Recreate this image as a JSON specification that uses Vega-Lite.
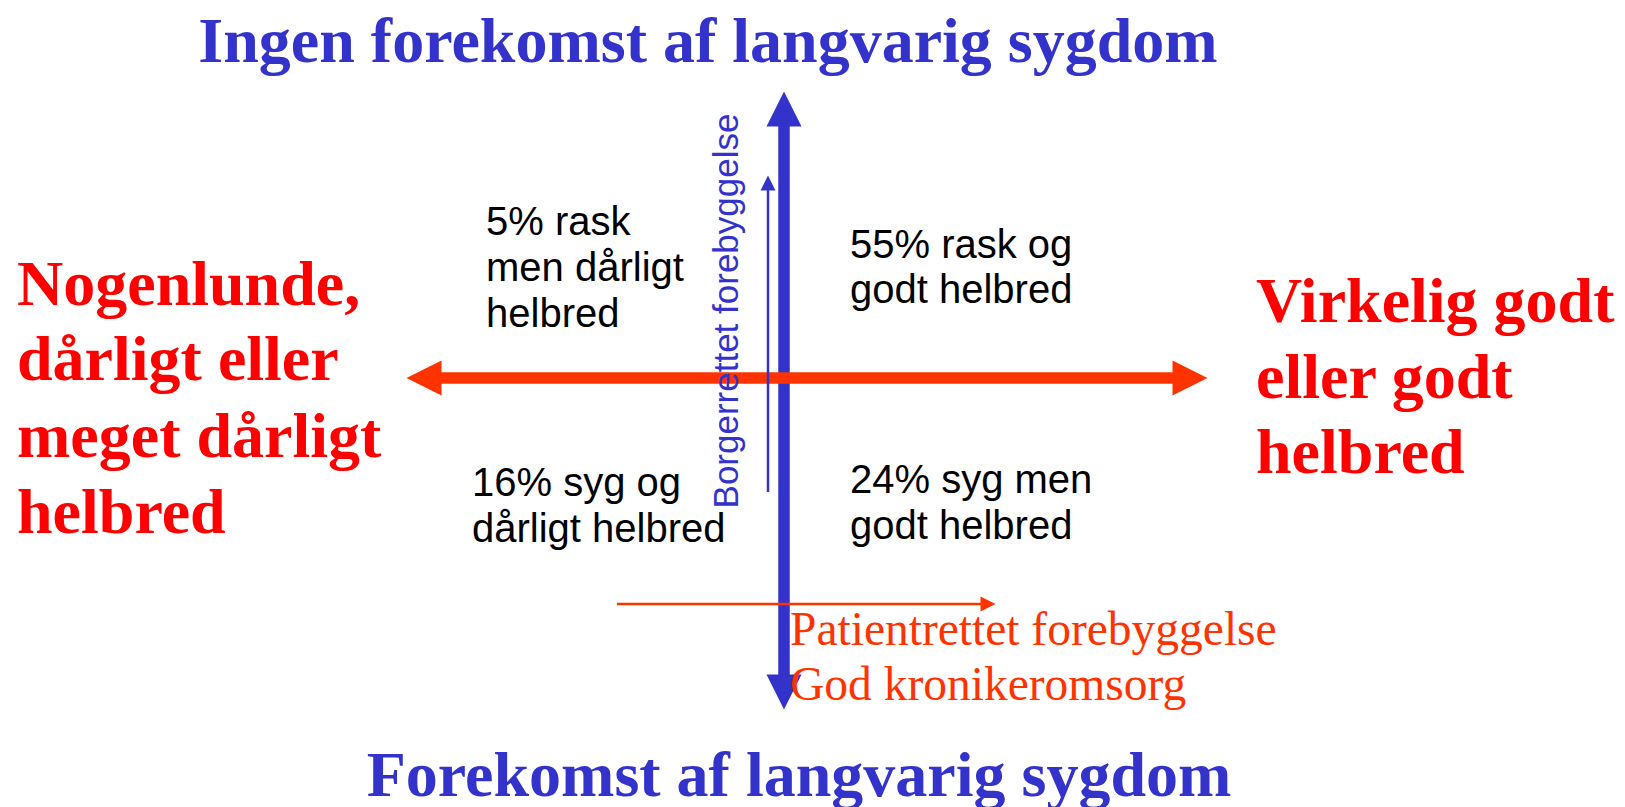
{
  "$schema": "https://vega.github.io/schema/vega-lite/v6.json",
  "width": 1625,
  "height": 807,
  "padding": 0,
  "autosize": {"type": "none"},
  "background": "white",
  "config": {"view": {"stroke": null}},
  "datasets": {
    "shafts": [
      {"arrow": "Langvarig sygdom", "kind": "main", "axis": "vertical", "x": 784, "y": 121, "x2": 784, "y2": 680},
      {"arrow": "Helbred", "kind": "main", "axis": "horizontal", "x": 440, "y": 378, "x2": 1176, "y2": 378},
      {"arrow": "Borgerrettet forebyggelse", "kind": "guide", "axis": "vertical", "x": 768, "y": 188, "x2": 768, "y2": 492},
      {"arrow": "Patientrettet forebyggelse", "kind": "guide", "axis": "horizontal", "x": 617, "y": 604, "x2": 984, "y2": 604}
    ],
    "heads": [
      {"arrow": "Langvarig sygdom", "kind": "main", "axis": "vertical", "dir": "up", "x": 784, "y": 109},
      {"arrow": "Langvarig sygdom", "kind": "main", "axis": "vertical", "dir": "down", "x": 784, "y": 692},
      {"arrow": "Helbred", "kind": "main", "axis": "horizontal", "dir": "left", "x": 424, "y": 378},
      {"arrow": "Helbred", "kind": "main", "axis": "horizontal", "dir": "right", "x": 1190, "y": 378},
      {"arrow": "Borgerrettet forebyggelse", "kind": "guide", "axis": "vertical", "dir": "up", "x": 768, "y": 183},
      {"arrow": "Patientrettet forebyggelse", "kind": "guide", "axis": "horizontal", "dir": "right", "x": 988, "y": 604}
    ],
    "labels": [
      {"text": "Ingen forekomst af langvarig sygdom", "role": "title", "x": 708, "y": 62},
      {"text": "Forekomst af langvarig sygdom", "role": "title", "x": 799, "y": 796},
      {"text": "Nogenlunde,", "role": "helbred", "x": 17, "y": 305},
      {"text": "dårligt eller", "role": "helbred", "x": 17, "y": 380},
      {"text": "meget dårligt", "role": "helbred", "x": 17, "y": 457},
      {"text": "helbred", "role": "helbred", "x": 17, "y": 533},
      {"text": "Virkelig godt", "role": "helbred", "x": 1256, "y": 322},
      {"text": "eller godt", "role": "helbred", "x": 1256, "y": 398},
      {"text": "helbred", "role": "helbred", "x": 1256, "y": 473},
      {"text": "5% rask", "role": "quadrant", "x": 486, "y": 235},
      {"text": "men dårligt", "role": "quadrant", "x": 486, "y": 281},
      {"text": "helbred", "role": "quadrant", "x": 486, "y": 327},
      {"text": "55% rask og", "role": "quadrant", "x": 850, "y": 258},
      {"text": "godt helbred", "role": "quadrant", "x": 850, "y": 303},
      {"text": "16% syg og", "role": "quadrant", "x": 472, "y": 496},
      {"text": "dårligt helbred", "role": "quadrant", "x": 472, "y": 542},
      {"text": "24% syg men", "role": "quadrant", "x": 850, "y": 493},
      {"text": "godt helbred", "role": "quadrant", "x": 850, "y": 539},
      {"text": "Patientrettet forebyggelse", "role": "patient", "x": 790, "y": 645},
      {"text": "God kronikeromsorg", "role": "patient", "x": 790, "y": 700},
      {"text": "Borgerrettet forebyggelse", "role": "borger", "x": 738, "y": 311}
    ]
  },
  "encoding": {
    "x": {"field": "x", "type": "quantitative", "scale": {"domain": [0, 1625], "nice": false, "zero": false}, "axis": null},
    "y": {"field": "y", "type": "quantitative", "scale": {"domain": [0, 807], "nice": false, "zero": false, "reverse": true}, "axis": null}
  },
  "layer": [
    {
      "data": {"name": "shafts"},
      "mark": {"type": "rule", "strokeCap": "butt"},
      "encoding": {
        "x2": {"field": "x2"},
        "y2": {"field": "y2"},
        "color": {"field": "axis", "type": "nominal", "scale": {"domain": ["vertical", "horizontal"], "range": ["#3333CC", "#FF3300"]}, "legend": null},
        "strokeWidth": {"field": "kind", "type": "nominal", "scale": {"domain": ["main", "guide"], "range": [11.5, 2.5]}, "legend": null}
      }
    },
    {
      "data": {"name": "heads"},
      "mark": {"type": "point", "filled": true, "opacity": 1, "strokeWidth": 0},
      "encoding": {
        "shape": {"field": "dir", "type": "nominal", "scale": {"domain": ["up", "down", "left", "right"], "range": ["M0,-1L1,1L-1,1Z", "M0,1L1,-1L-1,-1Z", "M-1,0L1,-1L1,1Z", "M1,0L-1,-1L-1,1Z"]}, "legend": null},
        "color": {"field": "axis", "type": "nominal", "scale": {"domain": ["vertical", "horizontal"], "range": ["#3333CC", "#FF3300"]}, "legend": null},
        "size": {"field": "kind", "type": "nominal", "scale": {"domain": ["main", "guide"], "range": [1225, 225]}, "legend": null}
      }
    },
    {
      "data": {"name": "labels"},
      "transform": [{"filter": "datum.role === 'title'"}],
      "mark": {"type": "text", "font": "Liberation Serif", "fontWeight": "bold", "fontSize": 64, "align": "center", "baseline": "alphabetic", "color": "#3333CC"},
      "encoding": {"text": {"field": "text"}}
    },
    {
      "data": {"name": "labels"},
      "transform": [{"filter": "datum.role === 'helbred'"}],
      "mark": {"type": "text", "font": "Liberation Serif", "fontWeight": "bold", "fontSize": 64, "align": "left", "baseline": "alphabetic", "color": "#FF0000"},
      "encoding": {"text": {"field": "text"}}
    },
    {
      "data": {"name": "labels"},
      "transform": [{"filter": "datum.role === 'quadrant'"}],
      "mark": {"type": "text", "font": "Liberation Sans", "fontSize": 40, "align": "left", "baseline": "alphabetic", "color": "#000000"},
      "encoding": {"text": {"field": "text"}}
    },
    {
      "data": {"name": "labels"},
      "transform": [{"filter": "datum.role === 'patient'"}],
      "mark": {"type": "text", "font": "Liberation Serif", "fontSize": 47.5, "align": "left", "baseline": "alphabetic", "color": "#FF3300"},
      "encoding": {"text": {"field": "text"}}
    },
    {
      "data": {"name": "labels"},
      "transform": [{"filter": "datum.role === 'borger'"}],
      "mark": {"type": "text", "font": "Liberation Sans", "fontSize": 35, "align": "center", "baseline": "alphabetic", "angle": 270, "color": "#3333CC"},
      "encoding": {"text": {"field": "text"}}
    }
  ]
}
